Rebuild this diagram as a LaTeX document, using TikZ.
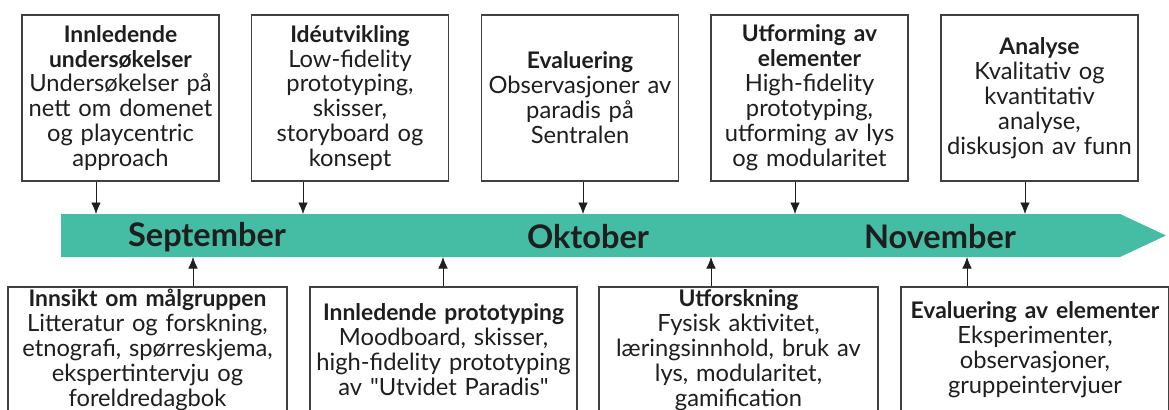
\documentclass[tikz,border=0pt]{standalone}
\usepackage{fontspec}
\setmainfont{Lato}
\usepackage{xcolor}
\usetikzlibrary{
    arrows.meta,
    calc,
    positioning
}
\definecolor{bandteal}{RGB}{69,188,164}
\definecolor{ink}{RGB}{30,30,30}
\newcommand{\hd}[1]{{\fontsize{13}{14.2}\selectfont\bfseries #1}}

\begin{document}
\begin{tikzpicture}[x=0.02cm, y=-0.02cm, >={Latex[length=2.3mm,width=1.9mm]},
    box/.style={draw=ink!85, line width=0.8pt, align=center, inner sep=0pt,
        font=\fontsize{13.5}{14.2}\selectfont, text=ink},
    topbox/.style={box, minimum width=3.94cm, minimum height=3.32cm, text width=3.85cm},
    botbox/.style={box, minimum height=2.52cm},
    month/.style={font=\fontsize{18.5}{20}\selectfont\bfseries, text=ink}]
    \useasboundingbox (0,0) rectangle (1169,409);
    \clip (0,0) rectangle (1169,409);
    \fill[white] (0,0) rectangle (1169,409);

    % timeline
    \fill[bandteal] (61,214) -- (1120,214) -- (1166,235.5) -- (1120,257) -- (61,257) -- cycle;
    \node[month] (sep) at (207,237) {September};
    \node[month] (okt) at (588,237) {Oktober};
    \node[month] (nov) at (940,237) {November};

    \coordinate (a1) at (96,214);
    \coordinate (a2) at (303,214);
    \coordinate (a3) at (583,214);
    \coordinate (a4) at (795,214);
    \coordinate (a5) at (1025,214);
    \coordinate (b1) at (193,257);
    \coordinate (b2) at (443,257);
    \coordinate (b3) at (711,257);
    \coordinate (b4) at (967,257);

    % above the line
    \node[topbox] (t1) at (120.5,98) {\hd{Innledende}\\\hd{undersøkelser}\\Undersøkelser på\\nett om domenet\\og playcentric\\approach};
    \node[topbox] (t2) at (350,98) {\hd{Idéutvikling}\\Low-fidelity\\prototyping,\\skisser,\\storyboard og\\konsept};
    \node[topbox] (t3) at (580,98) {\hd{Evaluering}\\Observasjoner av\\paradis på\\Sentralen};
    \node[topbox] (t4) at (809.5,98) {\hd{Utforming av}\\\hd{elementer}\\High-fidelity\\prototyping,\\utforming av lys\\og modularitet};
    \node[topbox] (t5) at (1039.5,98) {\hd{Analyse}\\Kvalitativ og\\kvantitativ\\analyse,\\diskusjon av funn};

    % below the line
    \node[botbox, minimum width=5.58cm, text width=5.4cm] (u1) at (147.5,350) {\hd{Innsikt om målgruppen}\\Litteratur og forskning,\\etnografi, spørreskjema,\\ekspertintervju og\\foreldredagbok};
    \node[botbox, minimum width=5.34cm, text width=5.2cm] (u2) at (443.5,350) {\hd{Innledende prototyping}\\Moodboard, skisser,\\high-fidelity prototyping\\av \textquotedbl Utvidet Paradis\textquotedbl};
    \node[botbox, minimum width=5.58cm, text width=5.4cm] (u3) at (738.5,350) {\hd{Utforskning}\\Fysisk aktivitet,\\læringsinnhold, bruk av\\lys, modularitet,\\gamification};
    \node[botbox, minimum width=5.36cm, text width=5.2cm] (u4) at (1035,350) {\hd{Evaluering av elementer}\\Eksperimenter,\\observasjoner,\\gruppeintervjuer};

    \draw[->, ink] (t1.south -| a1) -- (a1);
    \draw[->, ink] (t2.south -| a2) -- (a2);
    \draw[->, ink] (t3.south -| a3) -- (a3);
    \draw[->, ink] (t4.south -| a4) -- (a4);
    \draw[->, ink] (t5.south -| a5) -- (a5);
    \draw[->, ink] (u1.north -| b1) -- (b1);
    \draw[->, ink] (u2.north -| b2) -- (b2);
    \draw[->, ink] (u3.north -| b3) -- (b3);
    \draw[->, ink] (u4.north -| b4) -- (b4);
\end{tikzpicture}
\end{document}
